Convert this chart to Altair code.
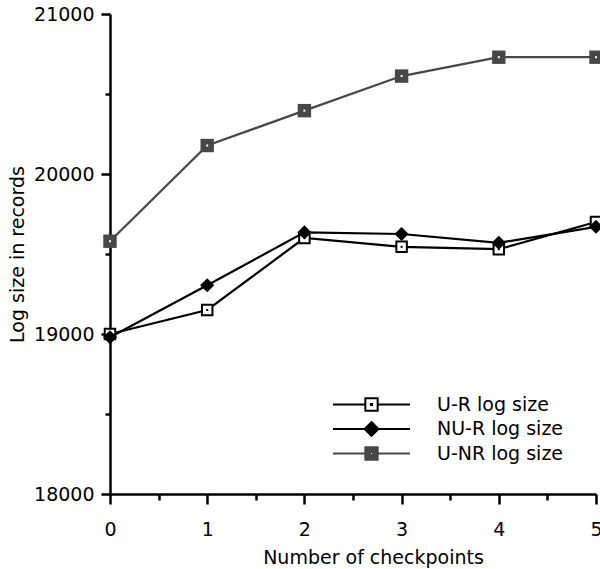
import altair as alt
import pandas as pd

checkpoints = [0, 1, 2, 3, 4, 5]
ur_size = [19000, 19150, 19600, 19545, 19530, 19700]
nur_size = [18980, 19305, 19635, 19625, 19570, 19670]
unr_size = [19580, 20178, 20396, 20612, 20730, 20730]
series_names = ["U-R log size", "NU-R log size", "U-NR log size"]
x_major = [0, 1, 2, 3, 4, 5]
x_minor = [0.5, 1.5, 2.5, 3.5, 4.5]
y_major = [18000, 19000, 20000, 21000]
y_minor = [18500, 19500, 20500]

GRAY = "#474747"
FONT = "DejaVu Sans"
FS = 19

rows = []
for name, vals in zip(series_names, [ur_size, nur_size, unr_size]):
    for c, v in zip(checkpoints, vals):
        rows.append({"series": name, "checkpoints": c, "size": v})
df = pd.DataFrame(rows)

x_scale = alt.Scale(domain=[0, 5], nice=False, zero=False)
y_scale = alt.Scale(domain=[18000, 21000], nice=False, zero=False)

x_enc = alt.X(
    "checkpoints:Q", scale=x_scale,
    axis=alt.Axis(
        values=x_major, format="d", orient="bottom",
        tickSize=10, tickWidth=2.5, domainWidth=2.5, domainColor="black", tickColor="black",
        labelFont=FONT, labelFontSize=FS, labelColor="black", labelPadding=16,
        labelFlush=False, labelOverlap=False,
        title="Number of checkpoints", titleFont=FONT, titleFontSize=FS,
        titleFontWeight="normal", titleColor="black", titlePadding=9,
        titleX=263, titleAlign="center", grid=False,
    ),
)
y_enc = alt.Y(
    "size:Q", scale=y_scale,
    axis=alt.Axis(
        values=y_major, format="d", orient="left",
        tickSize=9, tickWidth=2.5, domainWidth=2.5, domainColor="black", tickColor="black",
        labelFont=FONT, labelFontSize=FS, labelColor="black", labelPadding=7,
        labelOverlap=False,
        title="Log size in records", titleFont=FONT, titleFontSize=FS,
        titleFontWeight="normal", titleColor="black", titlePadding=6, grid=False,
    ),
)
x_minor_enc = alt.X(
    "checkpoints:Q", scale=x_scale,
    axis=alt.Axis(values=x_minor, orient="bottom", tickSize=6, tickWidth=2.5,
                  tickColor="black", domain=False, labels=False, title=None, grid=False),
)
y_minor_enc = alt.Y(
    "size:Q", scale=y_scale,
    axis=alt.Axis(values=y_minor, orient="left", tickSize=5, tickWidth=2.5,
                  tickColor="black", domain=False, labels=False, title=None, grid=False),
)


def series_layers(name, color, shape, size, fill, stroke, dot_color):
    base = alt.Chart(df).transform_filter(alt.datum.series == name).encode(x=x_enc, y=y_enc)
    line = base.mark_line(color=color, strokeWidth=2.2)
    pts = base.mark_point(shape=shape, size=size, filled=True, fill=fill,
                          stroke=stroke, strokeWidth=2 if stroke else 0, opacity=1)
    layers = [line, pts]
    if dot_color:
        layers.append(base.mark_point(shape="square", size=4, filled=True,
                                      color=dot_color, opacity=1))
    return layers


main_layers = []
main_layers += series_layers("U-NR log size", GRAY, "square", 180, GRAY, None, "white")
main_layers += series_layers("U-R log size", "black", "square", 110, "white", "black", "black")
main_layers += series_layers("NU-R log size", "black", "diamond", 200, "black", None, None)

seg = "M-1,0H-0.16M0.16,0H1"
paths = [
    seg + "M-0.16,-0.16H0.16V0.16H-0.16ZM-0.015,-0.015H0.015V0.015H-0.015Z",
    "M-1,0H-0.18M0.18,0H1M0,-0.18L0.18,0L0,0.18L-0.18,0Z",
    seg + "M-0.16,-0.16H0.16V0.16H-0.16ZM-0.04,-0.04V0.04H0.04V-0.04Z",
]
leg = alt.Legend(
    title=None, orient="none", legendX=222, legendY=380, padding=0,
    symbolSize=5929, symbolStrokeWidth=2, labelOffset=26, rowPadding=3.5,
    clipHeight=21, symbolOpacity=1,
    labelFont=FONT, labelFontSize=FS, labelColor="black",
)
legend_layer = alt.Chart(df).transform_filter("false").mark_point(
    filled=True, strokeWidth=2, opacity=1
).encode(
    x=x_enc, y=y_enc,
    shape=alt.Shape("series:N", scale=alt.Scale(domain=series_names, range=paths), legend=leg),
    fill=alt.Fill("series:N", scale=alt.Scale(domain=series_names, range=["white", "black", GRAY]), legend=leg),
    stroke=alt.Stroke("series:N", scale=alt.Scale(domain=series_names, range=["black", "black", GRAY]), legend=leg),
)
main_layers.append(legend_layer)

main = alt.layer(*main_layers)
minor = alt.Chart(df).transform_filter("false").mark_point(opacity=0).encode(
    x=x_minor_enc, y=y_minor_enc
)

chart = alt.layer(main, minor).resolve_axis(x="independent", y="independent").properties(
    width=486, height=480,
    autosize=alt.AutoSizeParams(type="none"),
    padding={"left": 110, "top": 14, "right": 4, "bottom": 75},
    background="white",
).configure_view(stroke=None)

chart.save("out.html", embed_options={"renderer": "svg", "actions": False})
